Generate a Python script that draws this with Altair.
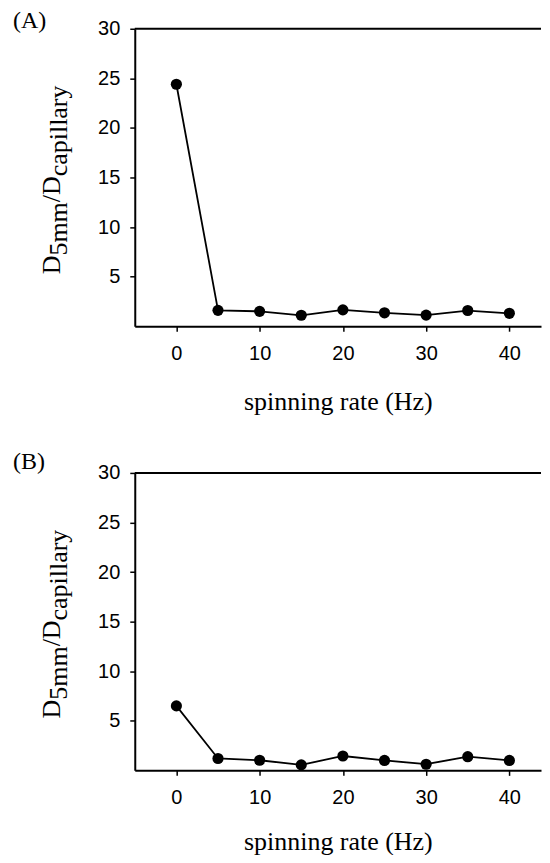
import altair as alt
import pandas as pd

rates = [0, 5, 10, 15, 20, 25, 30, 35, 40]
ratio_a = [24.4, 1.6, 1.5, 1.1, 1.65, 1.35, 1.12, 1.58, 1.3]
ratio_b = [6.5, 1.2, 1.02, 0.55, 1.45, 1.0, 0.62, 1.38, 1.0]

x_ticks = [0, 10, 20, 30, 40]
y_ticks = [5, 10, 15, 20, 25, 30]
x_title = "spinning rate (Hz)"
panel_labels = ["(A)", "(B)"]

# y-title pieces: (text, is_subscript)
y_title_parts = [("D", False), ("5mm", True), ("/", False), ("D", False), ("capillary", True)]

SERIF = "Liberation Serif"
SANS = "Liberation Sans"
MAIN_SIZE = 26
SUB_SIZE = 26
# approximate Times advance widths (em)
ADV = {"D": 0.722, "5": 0.5, "m": 0.778, "/": 0.278, "c": 0.444, "a": 0.444,
       "p": 0.5, "i": 0.278, "l": 0.278, "r": 0.333, "y": 0.5}

W = 407
H = 298
X_MAX = 43.8


def text_layer(txt, x, y, size, font, angle=0, align="left"):
    return alt.Chart(pd.DataFrame({"t": [txt]})).mark_text(
        font=font, fontSize=size, color="black", align=align,
        baseline="alphabetic", angle=angle
    ).encode(x=alt.value(x), y=alt.value(y), text="t:N")


def panel(vals, letter, title_pad, letter_y):
    df = pd.DataFrame({"x": rates, "y": vals})
    xs = alt.X("x:Q", scale=alt.Scale(domain=[-5, X_MAX], nice=False, zero=False),
               axis=alt.Axis(values=x_ticks, title=x_title, titleFont=SERIF,
                             titleFontSize=26, titleFontWeight="normal",
                             titlePadding=title_pad, labelFont=SANS,
                             labelFontSize=20, labelPadding=12, tickSize=5,
                             grid=False))
    ys = alt.Y("y:Q", scale=alt.Scale(domain=[0, 30], nice=False, zero=False),
               axis=alt.Axis(values=y_ticks, title=None, labelFont=SANS,
                             labelFontSize=20, labelPadding=10, tickSize=5,
                             grid=False))
    line = alt.Chart(df).mark_line(color="black", strokeWidth=1.8).encode(x=xs, y=ys)
    pts = alt.Chart(df).mark_circle(color="black", size=125, opacity=1).encode(x="x:Q", y="y:Q")
    top = alt.Chart(pd.DataFrame({"v": [30]})).mark_rule(
        color="black", strokeWidth=2).encode(y="v:Q")
    layers = [line, pts, top]

    # composed y title, rotated
    pos = 246.0
    for txt, sub in y_title_parts:
        size = SUB_SIZE if sub else MAIN_SIZE
        xb = -68 if sub else -75
        layers.append(text_layer(txt, xb, pos, size, SERIF, angle=270))
        pos -= sum(ADV[c] for c in txt) * size

    layers.append(text_layer(letter, -122, letter_y, 24, SERIF))
    return alt.layer(*layers).properties(width=W, height=H)


chart = alt.vconcat(
    panel(ratio_a, panel_labels[0], 25, -1),
    panel(ratio_b, panel_labels[1], 21, -4),
    spacing=36,
).configure_view(stroke=None).configure_axis(
    domainColor="black", domainWidth=2, tickColor="black", tickWidth=1.5,
    labelColor="black", titleColor="black"
).properties(padding={"left": 5, "top": 0, "right": 0, "bottom": 0})

chart.save("out.html", embed_options={"renderer": "svg", "actions": False})
